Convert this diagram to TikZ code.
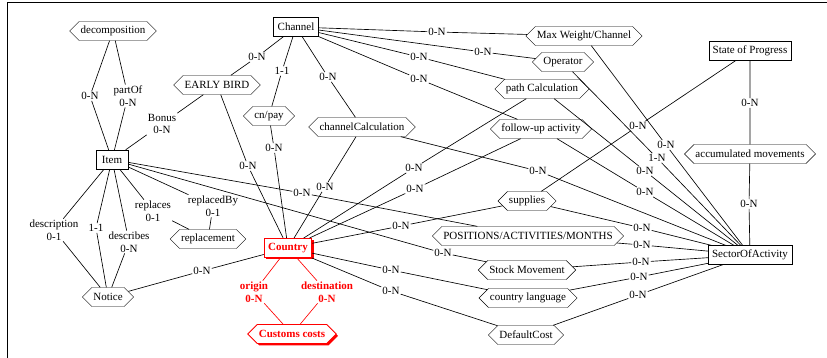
\documentclass[tikz,border=0pt]{standalone}
\usepackage{fontspec}
\setmainfont{Liberation Serif}
\usetikzlibrary{shapes.symbols,shadows}
\tikzset{
  base/.style={font=\fontsize{11}{12.5}\selectfont},
  ent/.style={base, rectangle, draw, fill=white, inner xsep=4pt, inner ysep=2pt, minimum height=19pt},
  asso/.style={base, signal, signal to=east and west, draw, fill=white, inner xsep=1.5pt, inner ysep=2pt, minimum height=19pt},
  card/.style={base, inner sep=1pt, align=center},
  redtxt/.style={text=red, font=\fontsize{11}{12.5}\selectfont\bfseries},
  redbox/.style={draw=red, line width=0.9pt, fill=white, redtxt,
    drop shadow={shadow xshift=1.8pt, shadow yshift=-1.8pt, fill=red, opacity=1}},
  link/.style={line width=0.65pt},
}
\begin{document}
\begin{tikzpicture}[x=1pt, y=-1pt]
\useasboundingbox (0,0) rectangle (827,358);
\draw[line width=0.8pt] (7.5,358) -- (7.5,2) -- (827,2);

% entities
\node[ent, minimum width=32pt] (item) at (112,159.5) {Item};
\node[ent] (channel) at (296,27) {Channel};
\node[ent] (state) at (750,51) {State of Progress};
\node[ent] (sector) at (750,255) {SectorOfActivity};
\node[ent, redbox] (country) at (288,248) {Country};

% associations
\node[asso] (decomp) at (113,31) {decomposition};
\node[asso] (early) at (217,85) {EARLY BIRD};
\node[asso] (cnpay) at (269,116) {cn/pay};
\node[asso] (chcalc) at (362,127) {channelCalculation};
\node[asso] (maxw) at (584,36) {Max Weight/Channel};
\node[asso] (oper) at (563,62) {Operator};
\node[asso] (path) at (542,89) {path Calculation};
\node[asso] (follow) at (541,129) {follow-up activity};
\node[asso] (accum) at (750,154) {accumulated movements};
\node[asso] (supp) at (527,201) {supplies};
\node[asso] (posit) at (528,236) {POSITIONS/ACTIVITIES/MONTHS};
\node[asso] (stock) at (527,270) {Stock Movement};
\node[asso] (lang) at (528,298) {country language};
\node[asso] (dcost) at (526,335) {DefaultCost};
\node[asso] (repl) at (208,239) {replacement};
\node[asso] (notice) at (108,297) {Notice};
\node[asso, redbox] (customs) at (292,334) {Customs costs};

% cardinality labels
\node[card] (c1) at (90,96) {0-N};
\node[card] (c2) at (128,96) {partOf\\0-N};
\node[card] (c3) at (162,124) {Bonus\\0-N};
\node[card] (c4) at (257,57) {0-N};
\node[card] (c5) at (248,166) {0-N};
\node[card] (c6) at (282,71) {1-1};
\node[card] (c7) at (274,148) {0-N};
\node[card] (c8) at (328,77) {0-N};
\node[card] (c9) at (325,187) {0-N};
\node[card] (c10) at (437,32) {0-N};
\node[card] (c11) at (483,52) {0-N};
\node[card] (c12) at (419,57) {0-N};
\node[card] (c13) at (419,79) {0-N};
\node[card] (c14) at (538,171) {0-N};
\node[card] (c15) at (414,168) {0-N};
\node[card] (c16) at (415,189) {0-N};
\node[card] (c17) at (401,226) {0-N};
\node[card] (c18) at (638,126) {0-N};
\node[card] (c19) at (750,103) {0-N};
\node[card] (c20) at (749,204) {0-N};
\node[card] (c21) at (666,145) {0-N};
\node[card] (c22) at (657,158) {1-N};
\node[card] (c23) at (645,171) {0-N};
\node[card] (c24) at (645,192) {0-N};
\node[card] (c25) at (302,193) {0-N};
\node[card] (c26) at (443,253) {0-N};
\node[card] (c27) at (642,228) {0-N};
\node[card] (c28) at (642,245) {0-N};
\node[card] (c29) at (641,262) {0-N};
\node[card] (c30) at (639,277) {0-N};
\node[card] (c31) at (638,295) {0-N};
\node[card] (c32) at (391,270) {0-N};
\node[card] (c33) at (391,291) {0-N};
\node[card] (c34) at (202,271) {0-N};
\node[card] (c35) at (54,230) {description\\0-1};
\node[card] (c36) at (96,228) {1-1};
\node[card] (c37) at (129,242) {describes\\0-N};
\node[card] (c38) at (153,211) {replaces\\0-1};
\node[card] (c39) at (213,206) {replacedBy\\0-1};
\node[card, redtxt] (c40) at (254,292) {origin\\0-N};
\node[card, redtxt] (c41) at (327,292) {destination\\0-N};

% links
\begin{scope}[link]
\draw (decomp) -- (c1) -- (item);
\draw (decomp) -- (c2) -- (item);
\draw (early) -- (c3) -- (item);
\draw (channel) -- (c4) -- (early);
\draw (early) -- (c5) -- (country);
\draw (channel) -- (c6) -- (cnpay);
\draw (cnpay) -- (c7) -- (country);
\draw (channel) -- (c8) -- (chcalc);
\draw (chcalc) -- (c9) -- (country);
\draw (channel) -- (c10) -- (maxw);
\draw (channel) -- (c11) -- (oper);
\draw (channel) -- (c12) -- (path);
\draw (channel) -- (c13) -- (follow);
\draw (chcalc) -- (c14) -- (sector);
\draw (path) -- (c15) -- (country);
\draw (follow) -- (c16) -- (country);
\draw (supp) -- (c17) -- (country);
\draw (state) -- (c18) -- (supp);
\draw (state) -- (c19) -- (accum);
\draw (accum) -- (c20) -- (sector);
\draw (maxw) -- (c21) -- (sector);
\draw (oper) -- (c22) -- (sector);
\draw (path) -- (c23) -- (sector);
\draw (follow) -- (c24) -- (sector);
\draw (item) -- (c25) -- (posit);
\draw (item) -- (c26) -- (stock);
\draw (supp) -- (c27) -- (sector);
\draw (posit) -- (c28) -- (sector);
\draw (stock) -- (c29) -- (sector);
\draw (lang) -- (c30) -- (sector);
\draw (dcost) -- (c31) -- (sector);
\draw (country) -- (c32) -- (lang);
\draw (country) -- (c33) -- (dcost);
\draw (notice) -- (c34) -- (country);
\draw (item) -- (c35) -- (notice);
\draw (item) -- (c36) -- (notice);
\draw (item) -- (c37) -- (notice);
\draw (item) -- (c38) -- (repl);
\draw (item) -- (c39) -- (repl);
\draw[red] (country) -- (c40) -- (customs);
\draw[red] (country) -- (c41) -- (customs);
\end{scope}
\end{tikzpicture}
\end{document}
